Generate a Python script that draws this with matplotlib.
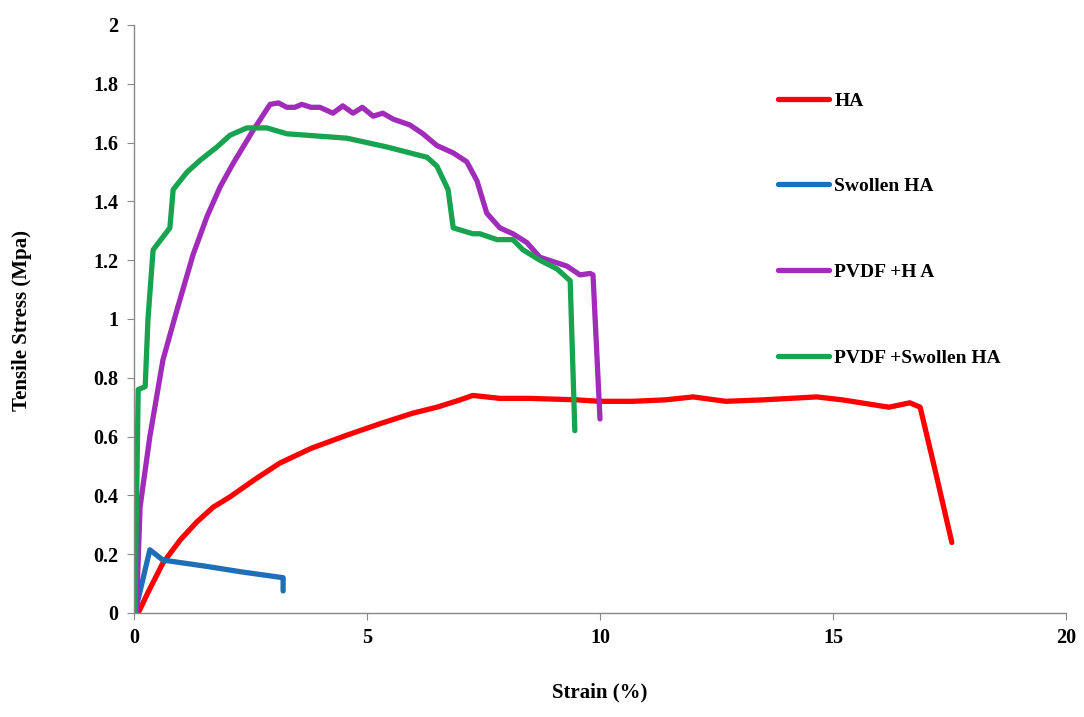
import matplotlib
matplotlib.use("Agg")
import matplotlib.pyplot as plt

plt.rcParams['font.family'] = ['Liberation Serif', 'DejaVu Serif']
plt.rcParams['font.weight'] = 'bold'

# Data
ha_x = [0.09, 0.3, 0.62, 1.0, 1.35, 1.7, 2.06, 2.6, 3.13, 3.8, 4.57, 5.3, 5.99, 6.5, 7.0, 7.27, 7.85, 8.5, 9.5, 10.0, 10.7, 11.4, 12.0, 12.7, 13.5, 14.65, 15.2, 15.8, 16.2, 16.5, 16.65, 16.87, 17.2, 17.55]
ha_y = [0.0, 0.07, 0.17, 0.25, 0.31, 0.36, 0.395, 0.455, 0.51, 0.56, 0.605, 0.645, 0.68, 0.70, 0.725, 0.74, 0.73, 0.73, 0.725, 0.72, 0.72, 0.725, 0.735, 0.72, 0.725, 0.735, 0.725, 0.71, 0.70, 0.71, 0.715, 0.70, 0.48, 0.24]

sw_x = [0.02, 0.34, 0.62, 1.5, 2.3, 3.2, 3.2]
sw_y = [0.0, 0.215, 0.18, 0.16, 0.14, 0.12, 0.075]

pvha_x = [0.05, 0.13, 0.34, 0.62, 0.92, 1.27, 1.57, 1.85, 2.13, 2.55, 2.92, 3.1, 3.28, 3.45, 3.6, 3.8, 3.99, 4.27, 4.48, 4.7, 4.9, 5.13, 5.34, 5.56, 5.92, 6.2, 6.5, 6.85, 7.14, 7.36, 7.57, 7.85, 8.13, 8.43, 8.71, 9.29, 9.57, 9.79, 9.85, 10.0]
pvha_y = [0.0, 0.36, 0.60, 0.86, 1.03, 1.22, 1.35, 1.45, 1.53, 1.64, 1.73, 1.735, 1.72, 1.72, 1.73, 1.72, 1.72, 1.70, 1.725, 1.70, 1.72, 1.69, 1.70, 1.68, 1.66, 1.63, 1.59, 1.565, 1.535, 1.47, 1.36, 1.31, 1.29, 1.26, 1.21, 1.18, 1.15, 1.155, 1.15, 0.66]

pvsw_x = [0.02, 0.09, 0.24, 0.3, 0.41, 0.77, 0.84, 1.14, 1.42, 1.78, 2.06, 2.42, 2.85, 3.28, 4.57, 5.43, 6.29, 6.5, 6.74, 6.85, 7.27, 7.42, 7.79, 8.13, 8.35, 8.71, 9.08, 9.36, 9.46]
pvsw_y = [0.0, 0.76, 0.77, 1.0, 1.235, 1.31, 1.44, 1.50, 1.54, 1.585, 1.625, 1.65, 1.65, 1.63, 1.615, 1.585, 1.55, 1.52, 1.44, 1.31, 1.29, 1.29, 1.27, 1.27, 1.235, 1.20, 1.17, 1.13, 0.62]

labels = ['HA', 'Swollen HA', 'PVDF +H A', 'PVDF +Swollen HA']
colors = ['#FF0000', '#1F6EB8', '#A12CBA', '#17A34F']

x_ticks = [0, 5, 10, 15, 20]
y_ticks = [0, 0.2, 0.4, 0.6, 0.8, 1.0, 1.2, 1.4, 1.6, 1.8, 2.0]
y_ticklabels = ['0', '0.2', '0.4', '0.6', '0.8', '1', '1.2', '1.4', '1.6', '1.8', '2']

fig = plt.figure(figsize=(10.84, 7.17), dpi=100)
ax = fig.add_axes([134/1084, 1-613/717, (1066-134)/1084, (613-25)/717])

series = [(ha_x, ha_y), (sw_x, sw_y), (pvha_x, pvha_y), (pvsw_x, pvsw_y)]
for (xs, ys), lab, c in zip(series, labels, colors):
    ax.plot(xs, ys, color=c, lw=3.8, label=lab, solid_capstyle='round', solid_joinstyle='round')

ax.set_xlim(0, 20)
ax.set_ylim(0, 2)
ax.set_xticks(x_ticks)
ax.set_xticklabels([str(t) for t in x_ticks])
ax.set_yticks(y_ticks)
ax.set_yticklabels(y_ticklabels)
for s in ['top', 'right']:
    ax.spines[s].set_visible(False)
for s in ['left', 'bottom']:
    ax.spines[s].set_color('#888888')
    ax.spines[s].set_linewidth(1.0)
ax.tick_params(axis='both', direction='out', length=5, color='#888888', labelsize=14.5, pad=6)
for t in ax.get_xticklabels() + ax.get_yticklabels():
    t.set_fontweight('bold')

fig.text(600/1084, 1-692/717, 'Strain (%)', ha='center', va='center', fontsize=15, fontweight='bold')
fig.text(22/1084, 1-320/717, 'Tensile Stress (Mpa)', ha='center', va='center', rotation=90, fontsize=15, fontweight='bold')

leg = ax.legend(loc='upper left', bbox_to_anchor=(778/1084, 1-92/717), bbox_transform=fig.transFigure,
                frameon=False, fontsize=14, handlelength=2.6, handletextpad=0.3,
                labelspacing=3.5, borderpad=0, borderaxespad=0)
for t in leg.get_texts():
    t.set_fontweight('bold')

fig.savefig('out.png', dpi=100)
